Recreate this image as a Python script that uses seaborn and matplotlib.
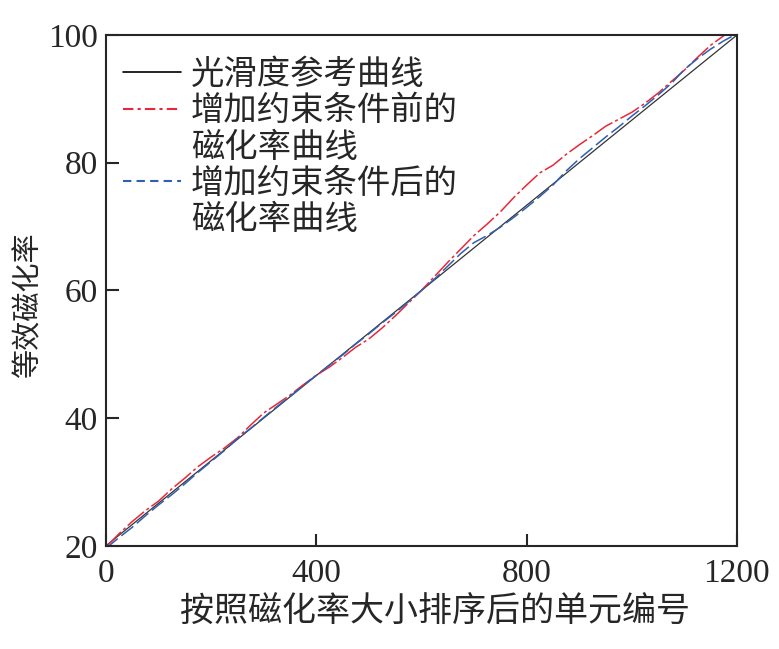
import matplotlib
matplotlib.use("Agg")
import matplotlib.pyplot as plt
from matplotlib.lines import Line2D
import seaborn as sns
import pandas as pd

# ---- data ----
x_idx = [0, 25, 50, 75, 100, 125, 150, 175, 200, 225, 250, 275, 300, 325, 350, 375,
         400, 425, 450, 475, 500, 525, 550, 575, 600, 625, 650, 675, 700, 725, 750,
         775, 800, 825, 850, 875, 900, 925, 950, 975, 1000, 1025, 1050, 1075, 1100,
         1125, 1150, 1175, 1200]
ref_x = [0, 1200]
ref_y = [20, 100]
before_y = [19.8, 21.9, 23.8, 25.5, 27.0, 28.9, 30.6, 32.4, 33.9, 35.3, 36.9, 38.9,
            40.8, 42.2, 43.6, 45.2, 46.7, 48.0, 49.5, 51.1, 52.4, 54.1, 56.0, 58.0,
            60.0, 62.2, 64.4, 66.5, 68.6, 70.4, 72.3, 74.5, 76.5, 78.4, 79.6, 81.3,
            82.8, 84.2, 85.7, 86.8, 87.9, 89.3, 90.9, 92.7, 94.5, 96.5, 98.4, 99.9, 101.2]
after_y = [19.6, 21.3, 22.9, 24.7, 26.4, 28.0, 29.7, 31.5, 33.2, 34.9, 36.8, 38.4,
           40.1, 41.8, 43.4, 45.1, 46.7, 48.3, 49.9, 51.6, 53.2, 54.9, 56.5, 58.2,
           60.0, 61.8, 63.8, 65.8, 67.5, 68.6, 69.9, 71.4, 73.0, 74.7, 76.5, 78.7,
           80.6, 82.3, 84.0, 85.6, 87.3, 88.9, 90.6, 92.4, 94.6, 96.3, 97.8, 99.1, 100.2]
labels = ["光滑度参考曲线", "增加约束条件前的", "磁化率曲线", "增加约束条件后的", "磁化率曲线"]
xticks = [0, 400, 800, 1200]
yticks = [20, 40, 60, 80, 100]
xlabel = "按照磁化率大小排序后的单元编号"
ylabel = "等效磁化率"

sns.set_style("ticks")
plt.rcParams['font.family'] = ['Liberation Serif', 'Noto Sans CJK SC', 'DejaVu Sans']

fig = plt.figure(figsize=(7.79, 6.49), dpi=100)
ax = fig.add_axes([0.136, 0.159, 0.810, 0.787])

df_ref = pd.DataFrame({"x": ref_x, "y": ref_y})
df_b = pd.DataFrame({"x": x_idx, "y": before_y})
df_a = pd.DataFrame({"x": x_idx, "y": after_y})

red = "#e8283a"
blue = "#2f5fb3"
sns.lineplot(data=df_ref, x="x", y="y", ax=ax, color="#333333", lw=0.9)
sns.lineplot(data=df_b, x="x", y="y", ax=ax, color=red, lw=1.1,
             linestyle=(0, (14, 2, 2, 2)))
sns.lineplot(data=df_a, x="x", y="y", ax=ax, color=blue, lw=1.1,
             linestyle=(0, (10, 3)))

ax.set_xlim(0, 1200)
ax.set_ylim(20, 100)
ax.set_xticks(xticks)
ax.set_yticks(yticks)
ax.tick_params(direction="in", length=9, width=1.5, labelsize=24)
ax.tick_params(axis="x", pad=9)
ax.tick_params(axis="y", pad=6)
for s in ax.spines.values():
    s.set_linewidth(1.5)
    s.set_visible(True)
ax.set_xlabel(xlabel, fontsize=24.5)
ax.set_ylabel(ylabel, fontsize=21)
ax.xaxis.set_label_coords(0.521, -0.100)
ax.yaxis.set_label_coords(-0.100, 0.472)

handles = [Line2D([], [], color="black", lw=1.2),
           Line2D([], [], color=red, lw=1.5, linestyle=(0, (5, 2, 1.5, 2))),
           Line2D([], [], color="none"),
           Line2D([], [], color=blue, lw=1.5, linestyle=(0, (4, 2.5))),
           Line2D([], [], color="none")]
leg = ax.legend(handles, labels, loc="upper left", frameon=False, fontsize=24,
                handlelength=1.75, handletextpad=0.3, labelspacing=0.15,
                borderaxespad=0.1, bbox_to_anchor=(0.0, 0.985))

fig.savefig("out.png", dpi=100)
